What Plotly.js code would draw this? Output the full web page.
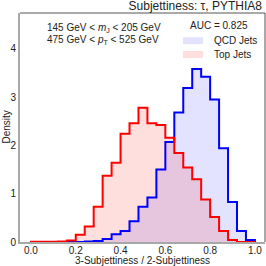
<!DOCTYPE html>
<html>
<head>
<meta charset="utf-8">
<script src="https://cdn.plot.ly/plotly-3.0.1.min.js"></script>
<style>html,body{margin:0;padding:0;background:#fff;}#chart{width:266px;height:266px;}</style>
</head>
<body>
<div id="chart"></div>
<script>
// Bin left edges (width 0.04) and right end
const binEdges = [0.00,0.04,0.08,0.12,0.16,0.20,0.24,0.28,0.32,0.36,0.40,0.44,0.48,0.52,0.56,0.60,0.64,0.68,0.72,0.76,0.80,0.84,0.88,0.92,0.96,1.00];
// Density per bin
const qcdDensity = [0,0,0,0,0,0,0.01,0.02,0.06,0.16,0.23,0.43,0.73,0.92,1.50,2.07,2.68,3.19,3.58,3.42,2.95,1.94,0.83,0.23,0.04];
const topDensity = [0.005,0.005,0.005,0.01,0.03,0.15,0.32,0.73,1.37,1.64,2.24,2.46,2.78,2.46,2.42,2.16,1.84,1.54,1.30,0.88,0.52,0.23,0.04,0,0];
const seriesNames = ["QCD Jets","Top Jets"];
const xTicks = [0.0,0.2,0.4,0.6,0.8,1.0];
const yTicks = [0,1,2,3,4];
const aucText = "AUC = 0.825";
const xTitle = "3-Subjettiness / 2-Subjettiness";
const yTitle = "Density";

function stepXY(vals){
  const xs=[binEdges[0]], ys=[0];
  for(let i=0;i<vals.length;i++){xs.push(binEdges[i]); ys.push(vals[i]);}
  xs.push(binEdges[binEdges.length-1]); ys.push(0);
  return {x:xs,y:ys};
}
const q=stepXY(qcdDensity), t=stepXY(topDensity);
const blueFill='rgba(0,0,255,0.11)', redFill='rgba(255,0,0,0.13)';
const font="Liberation Sans, Arial, sans-serif";
const traces=[
  {x:q.x,y:q.y,type:'scatter',mode:'lines',line:{shape:'hv',width:0},fill:'tozeroy',fillcolor:blueFill,hoverinfo:'skip',showlegend:false},
  {x:t.x,y:t.y,type:'scatter',mode:'lines',line:{shape:'hv',width:0},fill:'tozeroy',fillcolor:redFill,hoverinfo:'skip',showlegend:false},
  {x:q.x,y:q.y,type:'scatter',mode:'lines',line:{shape:'hv',width:2,color:'#0000ff'},name:seriesNames[0],showlegend:false},
  {x:t.x,y:t.y,type:'scatter',mode:'lines',line:{shape:'hv',width:2,color:'#ff0000'},name:seriesNames[1],showlegend:false}
];
const X=px=>(px-20)/245, Y=py=>(242-py)/229;
const layout={
  width:266,height:266,
  margin:{l:20,r:1,t:13,b:24,pad:0},
  paper_bgcolor:'#fff',plot_bgcolor:'#fff',
  font:{family:font,size:10,color:'#222'},
  showlegend:false,
  title:{text:'Subjettiness: τ, PYTHIA8',font:{size:12,color:'#222'},x:0.985,xref:'container',xanchor:'right',y:0.977,yref:'container',yanchor:'middle'},
  xaxis:{range:[-0.049,1.045],tickvals:xTicks,ticktext:xTicks.map(v=>v.toFixed(1)),ticks:'',showgrid:false,zeroline:false,showline:true,mirror:false,linecolor:'#a8a8a8',linewidth:2,
    automargin:false,tickfont:{size:10},ticklabelstandoff:-2},
  yaxis:{range:[0,4.74],tickvals:yTicks,ticks:'',showgrid:false,zeroline:false,showline:true,mirror:false,linecolor:'#a8a8a8',linewidth:2,
    automargin:false,tickfont:{size:10}},
  shapes:[
    {type:'line',xref:'paper',yref:'paper',x0:0,x1:1,y0:1,y1:1,line:{width:1,color:'#555'}},
    {type:'line',xref:'paper',yref:'paper',x0:1,x1:1,y0:0,y1:1,line:{width:1,color:'#555'}},
    {type:'rect',xref:'paper',yref:'paper',x0:X(183),x1:X(203),y0:Y(44.2),y1:Y(37.2),fillcolor:blueFill,line:{width:0}},
    {type:'rect',xref:'paper',yref:'paper',x0:X(183),x1:X(203),y0:Y(58),y1:Y(51),fillcolor:redFill,line:{width:0}}
  ],
  annotations:[
    {text:xTitle,xref:'paper',yref:'paper',x:X(142.5),y:Y(260.5),xanchor:'center',yanchor:'middle',showarrow:false,font:{size:10}},
    {text:yTitle,xref:'paper',yref:'paper',x:X(6),y:Y(127.5),xanchor:'center',yanchor:'middle',textangle:-90,showarrow:false,font:{size:10}},
    {text:aucText,xref:'paper',yref:'paper',x:X(219),y:Y(25),xanchor:'center',yanchor:'middle',showarrow:false,font:{size:10}},
    {text:seriesNames[0],xref:'paper',yref:'paper',x:X(212),y:Y(41),xanchor:'left',yanchor:'middle',showarrow:false,font:{size:10}},
    {text:seriesNames[1],xref:'paper',yref:'paper',x:X(212),y:Y(55),xanchor:'left',yanchor:'middle',showarrow:false,font:{size:10}},
    {text:'145 GeV < <i>m</i><sub>J</sub> < 205 GeV',xref:'paper',yref:'paper',x:X(45),y:Y(28),xanchor:'left',yanchor:'middle',showarrow:false,font:{size:10}},
    {text:'475 GeV < <i>p</i><sub>T</sub> < 525 GeV',xref:'paper',yref:'paper',x:X(45),y:Y(40),xanchor:'left',yanchor:'middle',showarrow:false,font:{size:10}}
  ]
};
Plotly.newPlot('chart',traces,layout,{staticPlot:true,displayModeBar:false});
</script>
</body>
</html>
